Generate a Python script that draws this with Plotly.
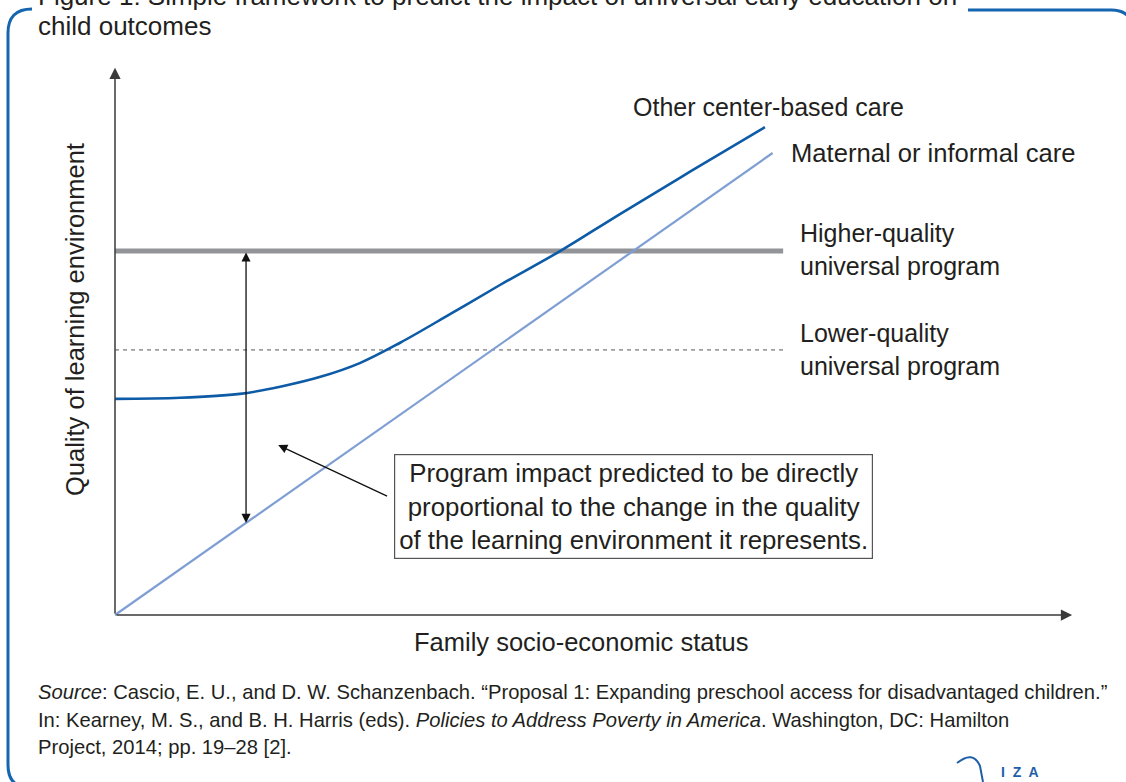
import numpy as np
import plotly.graph_objects as go

# ---------------- data (conceptual units) ----------------
ses_maternal = [0.0, 6.85]
quality_maternal = [0.0, 8.40]

ses_center = [0.0, 0.68, 1.30, 1.72, 2.14, 2.55, 2.97, 3.49, 4.01, 4.64, 5.26, 5.99, 6.77]
quality_center = [3.93, 3.95, 4.02, 4.15, 4.33, 4.58, 4.95, 5.47, 6.00, 6.62, 7.29, 8.06, 8.87]

ses_program = [0.0, 6.96]
quality_higher = [6.62, 6.62]
quality_lower = [4.82, 4.82]

impact_ses = 1.365
axis_x_max = 9.97
axis_y_max = 9.95
callout_head = [1.70, 3.09]
callout_tail = [2.85, 2.15]

labels = {
    "center": "Other center-based care",
    "maternal": "Maternal or informal care",
    "higher": "Higher-quality<br>universal program",
    "lower": "Lower-quality<br>universal program",
}
box_text = ("Program impact predicted to be directly<br>"
            "proportional to the change in the quality<br>"
            "of the learning environment it represents.")
x_title = "Family socio-economic status"
y_title = "Quality of learning environment"
title_lines = ["Figure 1: Simple framework to predict the impact of universal early education on",
               "child outcomes"]
source_lines = [
    "<i>Source</i>: Cascio, E. U., and D. W. Schanzenbach. \u201cProposal 1: Expanding preschool access for disadvantaged children.\u201d",
    "In: Kearney, M. S., and B. H. Harris (eds). <i>Policies to Address Poverty in America</i>. Washington, DC: Hamilton",
    "Project, 2014; pp. 19\u201328 [2].",
]

# ---------------- layout geometry ----------------
W, H = 1126, 782
X0, Y0 = 115, 615      # pixel of data origin
SX, SY = 96.0, 55.0    # pixels per data unit

def X(px):
    return (px - X0) / SX

def Y(py):
    return (Y0 - py) / SY

def PX(px):
    return px / W

def PY(py):
    return 1 - py / H

FONT = "Liberation Sans, Arial, sans-serif"
TXT = "#231f20"
AX = "#3a3a3a"
BLUE_DARK = "#0d5ba6"
BLUE_LIGHT = "#7f9fd4"
FRAME = "#1565b0"
LBL = 25

fig = go.Figure()

fig.add_trace(go.Scatter(x=ses_program, y=quality_lower, mode="lines",
                         line=dict(color="#9d9fa2", width=1.6, dash="4px,4px"),
                         hoverinfo="skip"))
fig.add_trace(go.Scatter(x=ses_program, y=quality_higher, mode="lines",
                         line=dict(color="#929497", width=5), hoverinfo="skip"))
fig.add_trace(go.Scatter(x=ses_maternal, y=quality_maternal, mode="lines",
                         line=dict(color=BLUE_LIGHT, width=2.2), hoverinfo="skip"))
fig.add_trace(go.Scatter(x=ses_center, y=quality_center, mode="lines",
                         line=dict(color=BLUE_DARK, width=2.6, shape="spline", smoothing=1.0),
                         hoverinfo="skip"))

ann = []
# axes with arrows
ann.append(dict(x=0, y=axis_y_max, ax=0, ay=0, xref="x", yref="y", axref="x", ayref="y",
                text="", showarrow=True, arrowhead=2, arrowsize=1.5, arrowwidth=1.5,
                arrowcolor=AX, standoff=0, startstandoff=0))
ann.append(dict(x=axis_x_max, y=0, ax=0, ay=0, xref="x", yref="y", axref="x", ayref="y",
                text="", showarrow=True, arrowhead=2, arrowsize=1.5, arrowwidth=1.5,
                arrowcolor=AX, standoff=0, startstandoff=0))
# double arrow for impact
impact_low = float(np.interp(impact_ses, ses_maternal, quality_maternal))
ann.append(dict(x=impact_ses, y=impact_low, ax=impact_ses, ay=quality_higher[0],
                xref="x", yref="y", axref="x", ayref="y", text="", showarrow=True,
                arrowhead=2, startarrowhead=2, arrowside="end+start", arrowsize=1.4,
                startarrowsize=1.4, arrowwidth=1.3, arrowcolor="#111", standoff=0,
                startstandoff=0))
# callout arrow
ann.append(dict(x=callout_head[0], y=callout_head[1], ax=callout_tail[0], ay=callout_tail[1],
                xref="x", yref="y", axref="x", ayref="y", text="", showarrow=True,
                arrowhead=2, arrowsize=1.4, arrowwidth=1.3, arrowcolor="#111", standoff=0))
# callout box
ann.append(dict(x=X(633.5), y=Y(506.5), xref="x", yref="y", text=box_text, showarrow=False,
                align="center", xanchor="center", yanchor="middle",
                font=dict(family=FONT, size=25.8, color=TXT), bordercolor="#555",
                borderwidth=1.2, borderpad=4, bgcolor="white"))
# line labels
ann.append(dict(x=X(631), y=Y(107), xref="x", yref="y", text=labels["center"], showarrow=False,
                xanchor="left", yanchor="middle", font=dict(family=FONT, size=LBL, color=TXT)))
ann.append(dict(x=X(789), y=Y(153), xref="x", yref="y", text=labels["maternal"], showarrow=False,
                xanchor="left", yanchor="middle", font=dict(family=FONT, size=LBL + 0.6, color=TXT)))
ann.append(dict(x=X(798), y=Y(249), xref="x", yref="y", text=labels["higher"], showarrow=False,
                xanchor="left", yanchor="middle", align="left",
                font=dict(family=FONT, size=LBL, color=TXT)))
ann.append(dict(x=X(798), y=Y(349), xref="x", yref="y", text=labels["lower"], showarrow=False,
                xanchor="left", yanchor="middle", align="left",
                font=dict(family=FONT, size=LBL, color=TXT)))
# axis titles
ann.append(dict(x=X(581), y=Y(642), xref="x", yref="y", text=x_title, showarrow=False,
                xanchor="center", yanchor="middle", font=dict(family=FONT, size=LBL + 0.5, color=TXT)))
ann.append(dict(x=X(75), y=Y(320), xref="x", yref="y", text=y_title, showarrow=False,
                textangle=-90, xanchor="center", yanchor="middle",
                font=dict(family=FONT, size=LBL + 0.5, color=TXT)))
# title
ann.append(dict(x=PX(36), y=PY(-4), xref="paper", yref="paper", text=title_lines[0],
                showarrow=False, xanchor="left", yanchor="middle",
                font=dict(family=FONT, size=26, color=TXT)))
ann.append(dict(x=PX(36), y=PY(26), xref="paper", yref="paper", text=title_lines[1],
                showarrow=False, xanchor="left", yanchor="middle",
                font=dict(family=FONT, size=26, color=TXT)))
# source
for i, line in enumerate(source_lines):
    ann.append(dict(x=PX(36), y=PY(692 + 27.5 * i), xref="paper", yref="paper", text=line,
                    showarrow=False, xanchor="left", yanchor="middle",
                    font=dict(family=FONT, size=20.2, color=TXT)))
# IZA logo text
ann.append(dict(x=PX(1020), y=PY(772), xref="paper", yref="paper", text="<b>I  Z  A</b>",
                showarrow=False, xanchor="center", yanchor="middle",
                font=dict(family=FONT, size=14, color="#1f5fa8")))

def pp(px, py):
    return f"{PX(px):.5f},{PY(py):.5f}"

shapes = [
    dict(type="path", xref="paper", yref="paper",
         path=f"M {pp(32,9)} Q {pp(8,9)} {pp(8,33)} L {pp(8,765)} Q {pp(8,788)} {pp(31,788)}",
         line=dict(color=FRAME, width=3)),
    dict(type="path", xref="paper", yref="paper",
         path=f"M {pp(968,10)} L {pp(1111,10)} Q {pp(1133,10)} {pp(1133,32)}",
         line=dict(color=FRAME, width=3)),
    dict(type="path", xref="paper", yref="paper",
         path=f"M {pp(957,763)} Q {pp(973,750)} {pp(980,766)} L {pp(983,782)}",
         line=dict(color="#1f5fa8", width=2)),
]

fig.update_layout(
    width=W, height=H, margin=dict(l=0, r=0, t=0, b=0),
    paper_bgcolor="white", plot_bgcolor="white", showlegend=False,
    xaxis=dict(range=[X(0), X(W)], visible=False, domain=[0, 1], fixedrange=True),
    yaxis=dict(range=[Y(H), Y(0)], visible=False, domain=[0, 1], fixedrange=True),
    annotations=ann, shapes=shapes,
)

fig.write_html("out.html", config={"displayModeBar": False},
               post_script="document.body.style.margin='0';")
